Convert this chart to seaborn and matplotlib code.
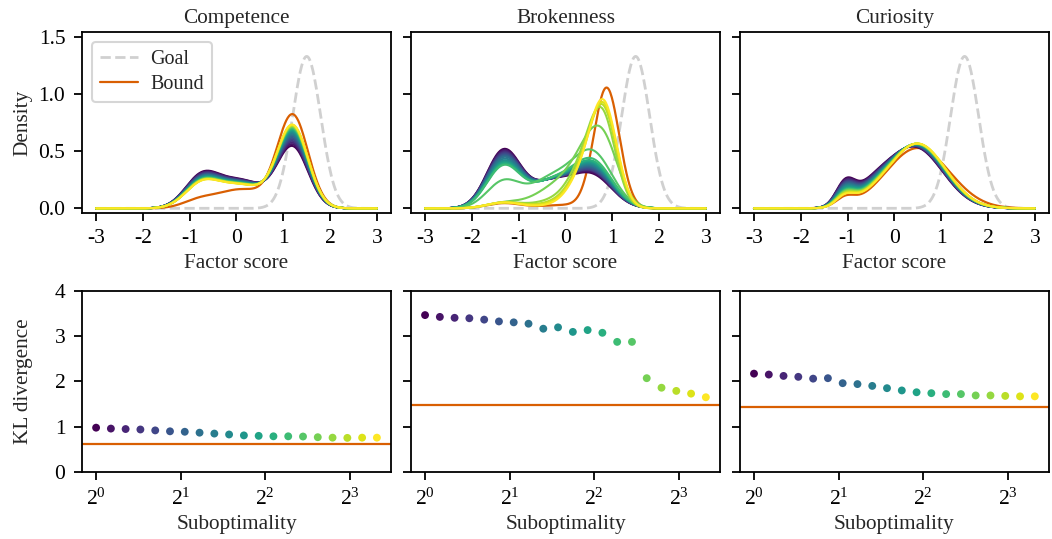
import numpy as np
import pandas as pd
import matplotlib
matplotlib.use("Agg")
import matplotlib.pyplot as plt
import seaborn as sns

# ---------------- data ----------------
factors = ["Competence", "Brokenness", "Curiosity"]
suboptimality = [1.0, 1.129, 1.274, 1.438, 1.624, 1.833, 2.069, 2.336, 2.637, 2.976,
                 3.360, 3.793, 4.281, 4.833, 5.456, 6.158, 6.952, 7.848, 8.859, 10.0]
kl_competence = [0.98, 0.96, 0.95, 0.94, 0.92, 0.90, 0.89, 0.87, 0.85, 0.83,
                 0.81, 0.80, 0.79, 0.79, 0.785, 0.77, 0.76, 0.755, 0.76, 0.76]
kl_brokenness = [3.46, 3.42, 3.40, 3.39, 3.36, 3.32, 3.30, 3.27, 3.16, 3.19,
                 3.09, 3.13, 3.07, 2.87, 2.87, 2.07, 1.86, 1.79, 1.73, 1.65]
kl_curiosity = [2.17, 2.15, 2.12, 2.10, 2.06, 2.07, 1.96, 1.94, 1.90, 1.85,
                1.80, 1.76, 1.74, 1.72, 1.72, 1.69, 1.69, 1.68, 1.67, 1.67]
kl_bound = [0.63, 1.47, 1.43]

# goal distribution (same for all factors)
goal_mu, goal_sd = 1.5, 0.30

# density curves: Gaussian-mixture parameters
# Competence
comp_left = dict(mu=-0.75, sd=0.36,
                 w=[0.236, 0.231, 0.227, 0.222, 0.218, 0.214, 0.210, 0.207, 0.203, 0.200,
                    0.196, 0.193, 0.190, 0.188, 0.186, 0.184, 0.182, 0.181, 0.179, 0.178])
comp_mid = dict(mu=0.1, sd=0.5,
                w=[0.300, 0.296, 0.292, 0.288, 0.285, 0.281, 0.278, 0.275, 0.272, 0.269,
                   0.266, 0.263, 0.261, 0.259, 0.257, 0.255, 0.254, 0.252, 0.251, 0.250])
comp_right = dict(mu=1.2, sd=0.33,
                  w=[0.434, 0.447, 0.459, 0.471, 0.482, 0.493, 0.504, 0.514, 0.524, 0.534,
                     0.543, 0.551, 0.558, 0.565, 0.571, 0.576, 0.581, 0.585, 0.589, 0.592])
comp_bound = [(-0.8, 0.35, 0.057), (0.1, 0.5, 0.205), (1.2, 0.33, 0.67)]

# Brokenness
brok_left = dict(mu=-1.32, sd=0.36,
                 w=[0.454, 0.445, 0.436, 0.427, 0.418, 0.409, 0.400, 0.391, 0.377, 0.364,
                    0.355, 0.346, 0.337, 0.328, 0.210, 0.040, 0.045, 0.045, 0.045, 0.045])
brok_plateau = dict(mu=-0.3, sd=0.45,
                    w=[0.25] * 14 + [0.28, 0.0, 0.0, 0.0, 0.0, 0.0])
brok_shoulder = dict(mu=0.0, sd=0.55,
                     w=[0.0] * 15 + [0.32, 0.12, 0.08, 0.06, 0.042])
brok_inner = dict(mu=0.4, sd=0.32,
                  w=[0.0] * 15 + [0.14, 0.22, 0.21, 0.20, 0.20])
brok_main = dict(mu=[0.58] * 15 + [0.80, 0.80, 0.82, 0.83, 0.83],
                 sd=[0.42] * 15 + [0.33, 0.28, 0.28, 0.28, 0.28],
                 w=[0.288, 0.299, 0.309, 0.315, 0.320, 0.331, 0.341, 0.352, 0.362, 0.373,
                    0.383, 0.394, 0.404, 0.425, 0.499, 0.440, 0.500, 0.540, 0.565, 0.586])
brok_bound = [(-1.32, 0.36, 0.04), (0.0, 0.55, 0.04), (0.88, 0.27, 0.71)]

# Curiosity
cur_bump = dict(mu=-1.05, sd=0.2,
                w=[0.094, 0.091, 0.088, 0.085, 0.082, 0.079, 0.076, 0.073, 0.070, 0.067,
                   0.064, 0.061, 0.059, 0.057, 0.055, 0.053, 0.051, 0.049, 0.046, 0.044])
cur_shoulder = dict(mu=-0.5, sd=0.4,
                    w=[0.127, 0.122, 0.117, 0.112, 0.108, 0.104, 0.099, 0.095, 0.091, 0.087,
                       0.083, 0.079, 0.075, 0.072, 0.069, 0.066, 0.063, 0.060, 0.057, 0.054])
cur_main = dict(mu=[0.43, 0.435, 0.44, 0.445, 0.45, 0.453, 0.457, 0.461, 0.465, 0.469,
                    0.473, 0.477, 0.48, 0.483, 0.486, 0.489, 0.492, 0.495, 0.498, 0.50],
                sd=0.6,
                w=[0.800, 0.805, 0.810, 0.813, 0.817, 0.820, 0.824, 0.828, 0.831, 0.834,
                   0.837, 0.839, 0.841, 0.843, 0.845, 0.846, 0.847, 0.848, 0.849, 0.850])
cur_bound = [(-1.05, 0.2, 0.037), (0.5, 0.68, 0.90)]

panel_components = [[comp_left, comp_mid, comp_right],
                    [brok_left, brok_plateau, brok_shoulder, brok_inner, brok_main],
                    [cur_bump, cur_shoulder, cur_main]]
panel_bounds = [comp_bound, brok_bound, cur_bound]
kl_values = [kl_competence, kl_brokenness, kl_curiosity]

# ---------------- helpers ----------------
def pdf(x, mu, sd):
    return np.exp(-0.5 * ((x - mu) / sd) ** 2) / (sd * np.sqrt(2 * np.pi))

def param(v, i):
    return v[i] if isinstance(v, (list, tuple)) else v

grid = np.linspace(-3, 3, 401)
n_levels = len(suboptimality)

# ---------------- style ----------------
sns.set_style("ticks")
plt.rcParams["font.family"] = ["Liberation Serif", "DejaVu Serif"]
plt.rcParams["mathtext.fontset"] = "stix"
plt.rcParams["axes.edgecolor"] = "black"
plt.rcParams["axes.linewidth"] = 1.3
plt.rcParams["xtick.color"] = "black"
plt.rcParams["ytick.color"] = "black"
plt.rcParams["xtick.major.width"] = 1.3
plt.rcParams["ytick.major.width"] = 1.3
plt.rcParams["xtick.major.size"] = 6
plt.rcParams["ytick.major.size"] = 6
plt.rcParams["xtick.major.pad"] = 5.5
plt.rcParams["ytick.major.pad"] = 6

BOUND_COLOR = "#d95f02"
GOAL_COLOR = "#d0d0d0"
FS_TICK = 15.5
FS_LAB = 15.3

fig, axes = plt.subplots(2, 3, figsize=(10.52, 5.39), dpi=100, sharey="row")
fig.subplots_adjust(left=0.078, right=0.997, top=0.941, bottom=0.124,
                    wspace=0.065, hspace=0.425)

for j, name in enumerate(factors):
    ax = axes[0, j]
    # goal
    sns.lineplot(x=grid, y=pdf(grid, goal_mu, goal_sd), ax=ax, color=GOAL_COLOR,
                 linestyle="--", linewidth=2, label="Goal")
    # bound
    bound = sum(w * pdf(grid, m, s) for m, s, w in panel_bounds[j])
    sns.lineplot(x=grid, y=bound, ax=ax, color=BOUND_COLOR, linewidth=1.6, label="Bound")
    # suboptimal curves
    rows = []
    for i in range(n_levels):
        dens = np.zeros_like(grid)
        for comp in panel_components[j]:
            dens += param(comp["w"], i) * pdf(grid, param(comp["mu"], i), param(comp["sd"], i))
        rows.append(pd.DataFrame({"score": grid, "density": dens, "level": i}))
    df = pd.concat(rows, ignore_index=True)
    sns.lineplot(data=df, x="score", y="density", hue="level", palette="viridis",
                 units="level", estimator=None, legend=False, linewidth=1.5, ax=ax)
    ax.set_title(name, fontsize=FS_LAB)
    ax.set_xlabel("Factor score", fontsize=FS_LAB)
    ax.set_ylabel("Density" if j == 0 else "", fontsize=FS_LAB)
    ax.set_xticks([-3, -2, -1, 0, 1, 2, 3])
    ax.set_xticklabels(["-3", "-2", "-1", "0", "1", "2", "3"])
    ax.set_ylim(-0.044, 1.545)
    ax.set_yticks([0.0, 0.5, 1.0, 1.5])
    ax.tick_params(labelsize=FS_TICK)
    if j == 0:
        leg = ax.legend(loc="upper left", fontsize=14.5, handlelength=1.9, borderpad=0.4,
                        labelspacing=0.3, handletextpad=0.6, frameon=True)
        leg.get_frame().set_edgecolor("#cccccc")
        leg.get_frame().set_linewidth(1.5)
    else:
        lg = ax.get_legend()
        if lg is not None:
            lg.remove()

    # bottom: KL divergence
    ax2 = axes[1, j]
    sns.scatterplot(x=suboptimality, y=kl_values[j], hue=list(range(n_levels)),
                    palette="viridis", legend=False, s=32, linewidth=0, ax=ax2)
    ax2.axhline(kl_bound[j], color=BOUND_COLOR, linewidth=1.6)
    ax2.set_xscale("log", base=2)
    ax2.set_xticks([1, 2, 4, 8])
    ax2.xaxis.set_minor_locator(matplotlib.ticker.NullLocator())
    ax2.set_ylim(0, 4)
    ax2.set_yticks([0, 1, 2, 3, 4])
    ax2.set_xlabel("Suboptimality", fontsize=FS_LAB)
    ax2.set_ylabel("KL divergence" if j == 0 else "", fontsize=FS_LAB)
    ax2.tick_params(labelsize=FS_TICK)

for ax in axes.flat:
    for sp in ax.spines.values():
        sp.set_visible(True)
        sp.set_color("black")

fig.align_ylabels(axes[:, 0])
fig.savefig("out.png", dpi=100)
